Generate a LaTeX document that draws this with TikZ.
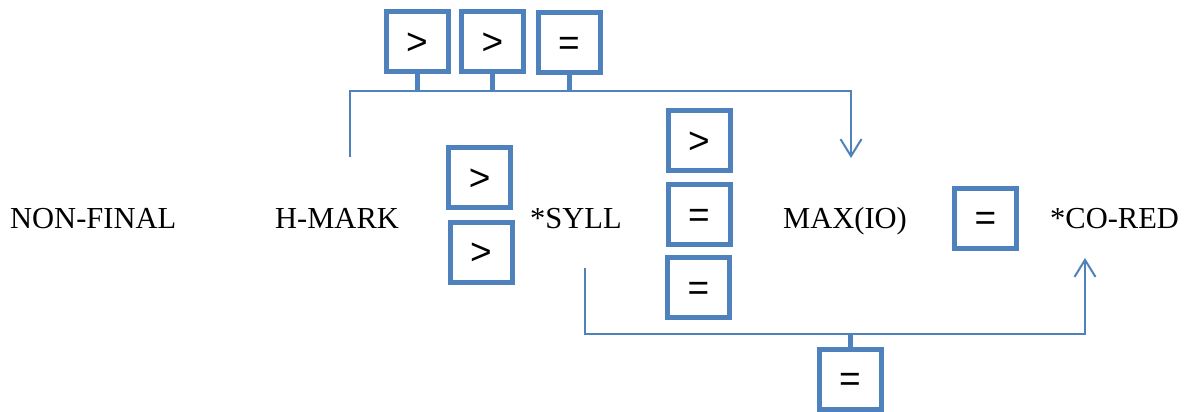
\documentclass[tikz,border=0pt]{standalone}
\usepackage{fontspec}
\setmainfont{Liberation Serif}
\newfontfamily\symfont{Liberation Sans}
\usetikzlibrary{arrows.meta}
\definecolor{ofblue}{HTML}{4F81BD}
\tikzset{
  rankbox/.style={draw=ofblue, line width=5pt, fill=white, minimum width=62pt,
    minimum height=60pt, inner sep=0pt, text height=25.6pt, text depth=0pt,
    font=\symfont\fontsize{37}{40}\selectfont},
  cname/.style={anchor=base west, inner sep=0pt, font=\fontsize{30.5}{34}\selectfont},
  link/.style={draw=ofblue, line width=2pt},
  stem/.style={draw=ofblue, line width=5pt},
  pointer/.style={link, -{Straight Barb[length=17pt,width=21pt]}}
}
\begin{document}
\begin{tikzpicture}[x=1pt,y=-1pt]
\useasboundingbox (0,0) rectangle (1192,412);

% constraint names
\node[cname] (nf)  at (10,228.5)   {NON-FINAL};
\node[cname] (hm)  at (275,228.5)  {H-MARK};
\node[cname] (sy)  at (530,228.5)  {*SYLL};
\node[cname] (mx)  at (783,228.5)  {MAX(IO)};
\node[cname] (cr)  at (1050,228.5) {*CO-RED};

% ranking boxes
\node[rankbox] (t1) at (417,41.5)  {>};
\node[rankbox] (t2) at (492.5,42)  {>};
\node[rankbox] (t3) at (569,42.5)  {=};
\node[rankbox] (l1) at (479.7,177.5) {>};
\node[rankbox] (l2) at (481,252)   {>};
\node[rankbox] (r1) at (699,140.3) {>};
\node[rankbox] (r2) at (699,214.5) {=};
\node[rankbox] (r3) at (698.5,287.3) {=};
\node[rankbox] (m)  at (985.3,218) {=};
\node[rankbox] (b)  at (850,379)   {=};

% upper bracket
\coordinate (ua) at (350,157);
\coordinate (ub) at (350,91);
\coordinate (uc) at (851,91);
\coordinate (ud) at (851,158);
\draw[pointer] (ua) -- (ub) -- (uc) -- (ud);
\foreach \n in {t1,t2,t3}
  \draw[stem] (\n.south) -- (\n.south |- ub);

% lower bracket
\coordinate (la) at (585,268);
\coordinate (lb) at (585,334);
\coordinate (lc) at (1085,334);
\coordinate (ld) at (1085,258);
\draw[pointer] (la) -- (lb) -- (lc) -- (ld);
\draw[stem] (b.north) -- (b.north |- lb);
\end{tikzpicture}
\end{document}
